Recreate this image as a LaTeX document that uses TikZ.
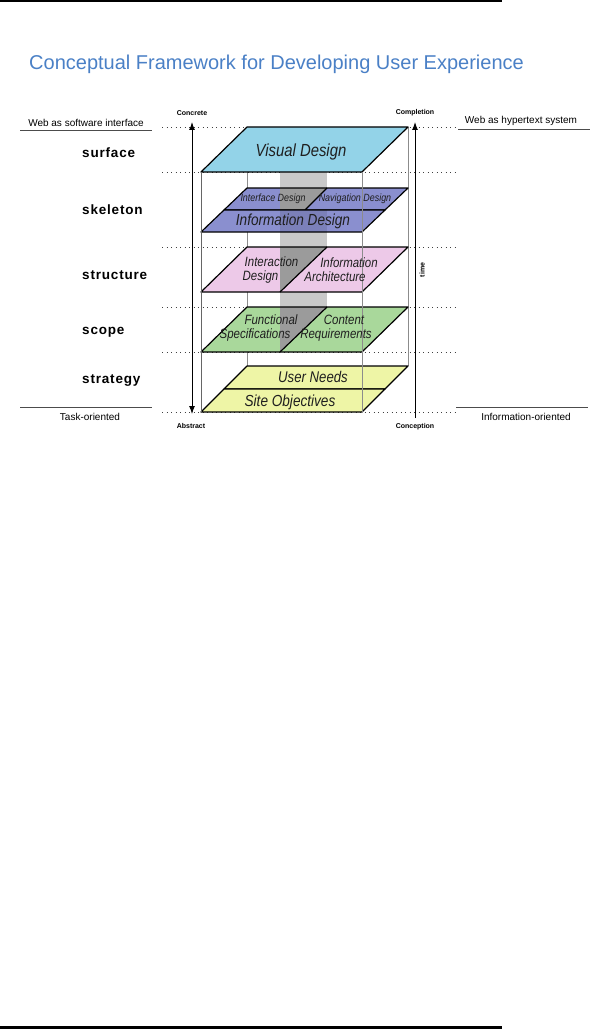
\documentclass[tikz,border=0pt]{standalone}
\usepackage{fontspec}
\setmainfont{Liberation Sans}
\newfontfamily\planefont[FakeStretch=0.85]{Liberation Sans}
\usepackage{tikz}
\usetikzlibrary{arrows.meta,positioning}
\definecolor{titleblue}{HTML}{4A80C6}
\definecolor{surfacecol}{HTML}{93D3E8}
\definecolor{skeletoncol}{HTML}{8A8FCF}
\definecolor{structurecol}{HTML}{EDC9E8}
\definecolor{scopecol}{HTML}{A9D89B}
\definecolor{strategycol}{HTML}{EEF5A6}
\definecolor{columngray}{HTML}{C9C9C9}
\definecolor{shadegray}{HTML}{9B9B9B}
\newcommand{\pfont}[1]{\planefont\itshape\fontsize{#1}{14}\selectfont}

\begin{document}
\begin{tikzpicture}[x=1pt,y=-1pt,
  plane/.style={draw=black,line width=1.2pt,line join=round},
  boxline/.style={draw=black!45,line width=1pt},
  level/.style={black!75,line width=0.8pt,dash pattern=on 1pt off 3.5pt},
  rule/.style={black!70,line width=0.6pt},
  layer/.style={anchor=west,inner sep=0pt,font=\fontsize{13.5}{15}\selectfont\bfseries\addfontfeature{LetterSpace=6}},
  side/.style={inner sep=0pt,font=\fontsize{10}{12}\selectfont},
  axis/.style={inner sep=0pt,font=\fontsize{7}{8}\selectfont\bfseries},
  ptext/.style={inner sep=0pt,align=center,text=black!88},
  tip/.style={-{Latex[length=8pt,width=6pt]},line width=1pt},
  twotip/.style={{Latex[length=8pt,width=6pt]}-{Latex[length=8pt,width=6pt]},line width=1pt}]
\useasboundingbox (0,0) rectangle (590,1030);

\draw[line width=2pt] (0,1) -- (502,1);
\draw[line width=2.5pt] (0,1027.5) -- (502,1027.5);
\node[anchor=base west,inner sep=0pt,text=titleblue,font=\fontsize{20}{24}\selectfont]
  (title) at (29,70) {Conceptual Framework for Developing User Experience};

\foreach \y in {127,172,247,307,352,412}
  \draw[level] (162,\y) -- (455,\y);

\draw[boxline] (247,127) -- (247,366);
\draw[boxline] (408,127) -- (408,366);
\fill[columngray] (280,172) rectangle (327,352);

% surface
\filldraw[plane,fill=surfacecol] (201,172) -- (362,172) -- (408,127) -- (247,127) -- cycle;
% skeleton
\fill[skeletoncol] (224,210) -- (385,210) -- (408,188) -- (247,188) -- cycle;
\fill[shadegray] (280,210) -- (305,210) -- (327,188) -- (280,188) -- cycle;
\draw[plane] (224,210) -- (385,210) -- (408,188) -- (247,188) -- cycle;
\draw[plane] (305,210) -- (327,188);
\fill[skeletoncol] (201,232) -- (362,232) -- (385,210) -- (224,210) -- cycle;
\fill[black,opacity=0.1] (280,210) rectangle (327,232);
\draw[plane] (201,232) -- (362,232) -- (385,210) -- (224,210) -- cycle;
% structure
\fill[structurecol] (201,292) -- (362,292) -- (408,247) -- (247,247) -- cycle;
\fill[shadegray] (280,292) -- (280,247) -- (327,247) -- cycle;
\draw[plane] (201,292) -- (362,292) -- (408,247) -- (247,247) -- cycle;
\draw[plane] (280,292) -- (327,247);
% scope
\fill[scopecol] (201,352) -- (362,352) -- (408,307) -- (247,307) -- cycle;
\fill[shadegray] (280,352) -- (280,307) -- (327,307) -- cycle;
\draw[plane] (201,352) -- (362,352) -- (408,307) -- (247,307) -- cycle;
\draw[plane] (280,352) -- (327,307);
% strategy
\filldraw[plane,fill=strategycol] (224,389) -- (385,389) -- (408,366) -- (247,366) -- cycle;
\filldraw[plane,fill=strategycol] (201,412) -- (362,412) -- (385,389) -- (224,389) -- cycle;

\draw[boxline,draw=black!60] (201,172) -- (201,412);
\draw[boxline] (362,172) -- (362,412);

\node[ptext,font=\pfont{17.5}] (visual) at (301,152) {Visual Design};
\node[ptext,font=\pfont{10.5}] (iface) at (273,199) {Interface Design};
\node[ptext,font=\pfont{10.5}] (nav) at (355,199) {Navigation Design};
\node[ptext,font=\pfont{16}] (info) at (293,221) {Information Design};
\node[ptext,font=\pfont{13.5}] (interact) at (266,270) {\hspace*{11pt}Interaction\\Design\hspace*{11pt}};
\node[ptext,font=\pfont{13.5}] (infoarch) at (342,270) {\hspace*{14pt}Information\\Architecture\hspace*{14pt}};
\node[ptext,font=\pfont{13.5}] (func) at (263,328) {\hspace*{16pt}Functional\\Specifications\hspace*{16pt}};
\node[ptext,font=\pfont{13.5}] (content) at (340,328) {\hspace*{8pt}Content\\Requirements\hspace*{8pt}};
\node[ptext,font=\pfont{15.5}] (needs) at (313,377) {User Needs};
\node[ptext,font=\pfont{16}] (objectives) at (290,402) {Site Objectives};

\node[layer] (surface) at (82,153) {surface};
\node[layer] (skeleton) at (82,210) {skeleton};
\node[layer] (structure) at (82,275) {structure};
\node[layer] (scope) at (82,332) {scope};
\node[layer] (strategy) at (82,381) {strategy};

\node[side] (websw) at (86,123) {Web as software interface};
\node[side] (webhyper) at (521,121) {Web as hypertext system};
\node[side] (taskor) at (90,417) {Task-oriented};
\node[side] (infoor) at (526,417) {Information-oriented};
\draw[rule] (20,130) -- (152,130);
\draw[rule] (458,129) -- (590,129);
\draw[rule] (20,407) -- (152,407);
\draw[rule] (456,407) -- (588,407);

\node[axis] (concrete) at (192,113) {Concrete};
\node[axis] (abstract) at (191,426) {Abstract};
\node[axis] (completion) at (415,113) {Completion};
\node[axis] (conception) at (415,427) {Conception};
\node[axis,rotate=90] (time) at (422,270) {time};
\coordinate (ctop) at (192,122);
\coordinate (cbot) at (192,414);
\coordinate (ttop) at (415,122);
\coordinate (tbot) at (415,418);
\draw[twotip] (cbot) -- (ctop);
\draw[tip] (tbot) -- (ttop);
\end{tikzpicture}
\end{document}
